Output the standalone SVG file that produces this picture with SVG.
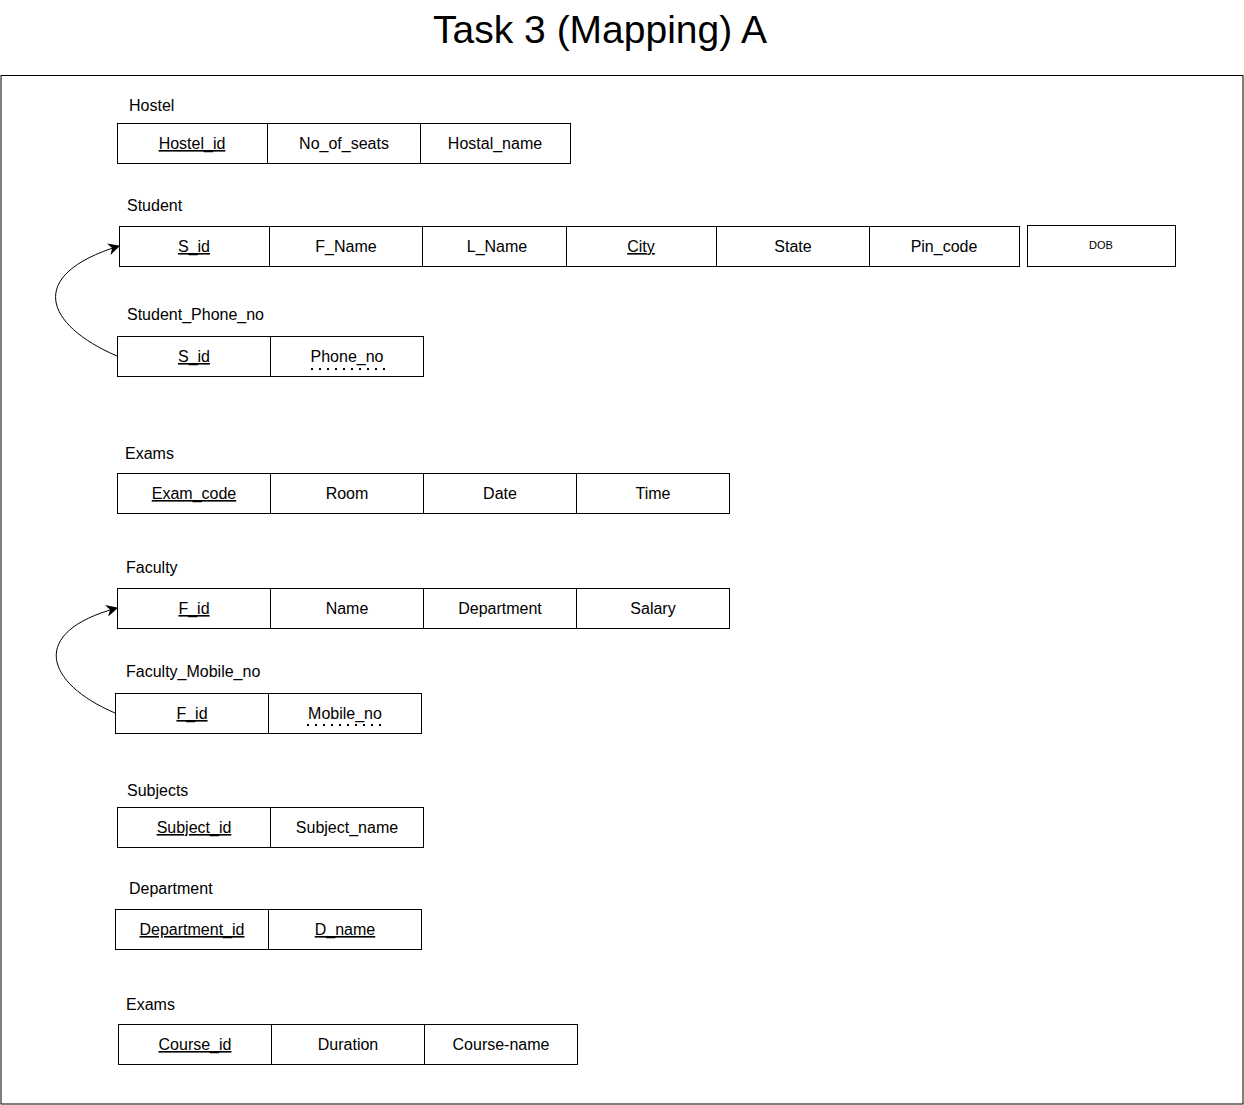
<svg xmlns="http://www.w3.org/2000/svg" width="1244" height="1105" viewBox="0 0 1244 1105">
<style>
text{font-family:"Liberation Sans",Arial,sans-serif;font-size:16px;fill:#000}
.c{text-anchor:middle}
.u{text-decoration:underline}
rect.cell{fill:#fff;stroke:#000;stroke-width:1}
.dot{stroke:#000;stroke-width:2;stroke-dasharray:2 6}
.conn{fill:none;stroke:#000;stroke-width:1}
</style>
<defs>
<marker id="ah" viewBox="0 0 10 10" refX="9" refY="5" markerWidth="12" markerHeight="12" markerUnits="userSpaceOnUse" orient="auto">
<path d="M0,0 L10,5 L0,10 L3,5 Z" fill="#000"/>
</marker>
</defs>
<rect width="1244" height="1105" fill="#fff"/>
<text x="600" y="43" class="c" style="font-size:39px">Task 3 (Mapping) A</text>
<rect x="1" y="75.5" width="1242" height="1028.5" fill="none" stroke="#000" stroke-width="1"/>

<g id="hostel">
<text x="129" y="111">Hostel</text>
<rect class="cell" x="117.5" y="123.5" width="150" height="40"/>
<rect class="cell" x="267.5" y="123.5" width="153" height="40"/>
<rect class="cell" x="420.5" y="123.5" width="150" height="40"/>
<text x="192" y="149" class="c u">Hostel_id</text>
<text x="344" y="149" class="c">No_of_seats</text>
<text x="495" y="149" class="c">Hostal_name</text>
</g>

<g id="student">
<text x="127" y="211">Student</text>
<rect class="cell" x="119.5" y="226.5" width="150" height="40"/>
<rect class="cell" x="269.5" y="226.5" width="153" height="40"/>
<rect class="cell" x="422.5" y="226.5" width="144" height="40"/>
<rect class="cell" x="566.5" y="226.5" width="150" height="40"/>
<rect class="cell" x="716.5" y="226.5" width="153" height="40"/>
<rect class="cell" x="869.5" y="226.5" width="150" height="40"/>
<rect class="cell" x="1027.5" y="225.5" width="148" height="41"/>
<text x="194" y="252" class="c u">S_id</text>
<text x="346" y="252" class="c">F_Name</text>
<text x="497" y="252" class="c">L_Name</text>
<text x="641" y="252" class="c u">City</text>
<text x="793" y="252" class="c">State</text>
<text x="944" y="252" class="c">Pin_code</text>
<text x="1101" y="249" class="c" style="font-size:11px">DOB</text>
</g>

<g id="student_phone_no">
<text x="127" y="320">Student_Phone_no</text>
<rect class="cell" x="117.5" y="336.5" width="153" height="40"/>
<rect class="cell" x="270.5" y="336.5" width="153" height="40"/>
<text x="194" y="362" class="c u">S_id</text>
<text x="347" y="362" class="c">Phone_no</text>
<line class="dot" x1="311" y1="369" x2="387" y2="369"/>
</g>

<g id="exams">
<text x="125" y="459">Exams</text>
<rect class="cell" x="117.5" y="473.5" width="153" height="40"/>
<rect class="cell" x="270.5" y="473.5" width="153" height="40"/>
<rect class="cell" x="423.5" y="473.5" width="153" height="40"/>
<rect class="cell" x="576.5" y="473.5" width="153" height="40"/>
<text x="194" y="499" class="c u">Exam_code</text>
<text x="347" y="499" class="c">Room</text>
<text x="500" y="499" class="c">Date</text>
<text x="653" y="499" class="c">Time</text>
</g>

<g id="faculty">
<text x="126" y="573">Faculty</text>
<rect class="cell" x="117.5" y="588.5" width="153" height="40"/>
<rect class="cell" x="270.5" y="588.5" width="153" height="40"/>
<rect class="cell" x="423.5" y="588.5" width="153" height="40"/>
<rect class="cell" x="576.5" y="588.5" width="153" height="40"/>
<text x="194" y="614" class="c u">F_id</text>
<text x="347" y="614" class="c">Name</text>
<text x="500" y="614" class="c">Department</text>
<text x="653" y="614" class="c">Salary</text>
</g>

<g id="faculty_mobile_no">
<text x="126" y="677">Faculty_Mobile_no</text>
<rect class="cell" x="115.5" y="693.5" width="153" height="40"/>
<rect class="cell" x="268.5" y="693.5" width="153" height="40"/>
<text x="192" y="719" class="c u">F_id</text>
<text x="345" y="719" class="c">Mobile_no</text>
<line class="dot" x1="307" y1="725" x2="383" y2="725"/>
</g>

<g id="subjects">
<text x="127" y="796">Subjects</text>
<rect class="cell" x="117.5" y="807.5" width="153" height="40"/>
<rect class="cell" x="270.5" y="807.5" width="153" height="40"/>
<text x="194" y="833" class="c u">Subject_id</text>
<text x="347" y="833" class="c">Subject_name</text>
</g>

<g id="department">
<text x="129" y="894">Department</text>
<rect class="cell" x="115.5" y="909.5" width="153" height="40"/>
<rect class="cell" x="268.5" y="909.5" width="153" height="40"/>
<text x="192" y="935" class="c u">Department_id</text>
<text x="345" y="935" class="c u">D_name</text>
</g>

<g id="exams2">
<text x="126" y="1010">Exams</text>
<rect class="cell" x="118.5" y="1024.5" width="153" height="40"/>
<rect class="cell" x="271.5" y="1024.5" width="153" height="40"/>
<rect class="cell" x="424.5" y="1024.5" width="153" height="40"/>
<text x="195" y="1050" class="c u">Course_id</text>
<text x="348" y="1050" class="c">Duration</text>
<text x="501" y="1050" class="c">Course-name</text>
</g>

<g id="connectors">
<path class="conn" d="M117,356 C45,325 25,275 119,246" marker-end="url(#ah)"/>
<path class="conn" d="M115,713 C45,683 28,632 117,608" marker-end="url(#ah)"/>
</g>
</svg>
